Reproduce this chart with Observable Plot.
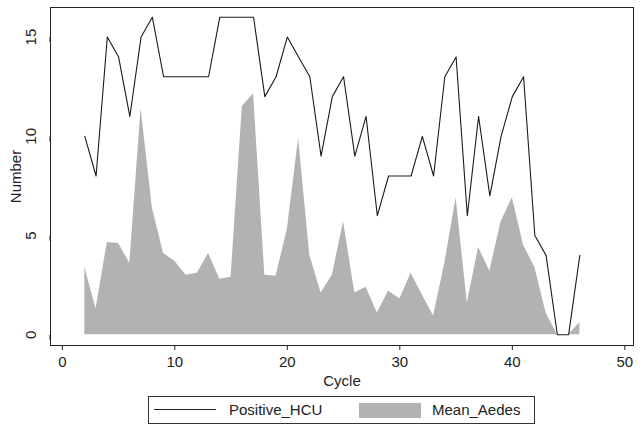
<!DOCTYPE html>
<html>
<head>
<meta charset="utf-8">
<script src="https://cdn.jsdelivr.net/npm/d3@7"></script>
<script src="https://cdn.jsdelivr.net/npm/@observablehq/plot@0.6"></script>
<style>
  html, body { margin: 0; padding: 0; background: #fff; }
  body { width: 642px; height: 433px; position: relative; overflow: hidden; font-family: "Liberation Sans", Arial, sans-serif; color: #222; }
  #legend { position: absolute; left: 148px; top: 396px; width: 387px; height: 28px; border: 1px solid #333; box-sizing: border-box; background: #fff; }
  .lg-line { position: absolute; left: 5px; top: 12px; width: 62px; height: 0; border-top: 1.2px solid #222; }
  .lg-text { position: absolute; top: 4px; font-size: 15px; line-height: 18px; color: #222; }
  .lg-rect { position: absolute; left: 210px; top: 6px; width: 62px; height: 15px; background: #b2b2b2; }
</style>
</head>
<body>
<div id="chart"></div>
<div id="legend">
  <div class="lg-line"></div>
  <div class="lg-text" style="left:80px">Positive_HCU</div>
  <div class="lg-rect"></div>
  <div class="lg-text" style="left:283px">Mean_Aedes</div>
</div>
<script>
const cycles = [2,3,4,5,6,7,8,9,10,11,12,13,14,15,16,17,18,19,20,21,22,23,24,25,26,27,28,29,30,31,32,33,34,35,36,37,38,39,40,41,42,43,44,45,46];
const positiveHCU = [10,8,15,14,11,15,16,13,13,13,13,13,16,16,16,16,12,13,15,14,13,9,12,13,9,11,6,8,8,8,10,8,13,14,6,11,7,10,12,13,5,4,0,0,4];
const meanAedes = [3.4,1.3,4.65,4.6,3.6,11.4,6.4,4.1,3.7,3.0,3.1,4.1,2.8,2.9,11.5,12.15,3.0,2.95,5.3,9.9,4.0,2.1,3.0,5.7,2.1,2.4,1.1,2.2,1.8,3.1,2.0,0.95,3.6,6.9,1.6,4.4,3.2,5.7,6.9,4.5,3.4,1.1,0,0,0.6];
const xTicks = [0,10,20,30,40,50];
const yTicks = [0,5,10,15];

const data = cycles.map((c, i) => ({cycle: c, positive: positiveHCU[i], aedes: meanAedes[i]}));

const chart = Plot.plot({
  width: 642, height: 390,
  marginTop: 7, marginBottom: 45, marginLeft: 50, marginRight: 9,
  style: {fontFamily: "'Liberation Sans', Arial, sans-serif", fontSize: "15px", color: "#222", background: "white"},
  x: {domain: [-1.05, 50.77]},
  y: {domain: [-0.54, 16.49]},
  marks: [
    Plot.areaY(data, {x: "cycle", y1: 0, y2: "aedes", fill: "#b2b2b2"}),
    Plot.lineY(data, {x: "cycle", y: "positive", stroke: "#1a1a1a", strokeWidth: 1.1}),
    Plot.frame({stroke: "#222"}),
    Plot.axisX({ticks: xTicks, tickSize: 5, tickPadding: 6, label: "Cycle", labelArrow: "none", labelAnchor: "center", labelOffset: 40, fontSize: 15}),
    Plot.axisY({ticks: yTicks, tickSize: 5, tickPadding: 14, rotate: -90, textAnchor: "middle", fontSize: 15, label: "Number", labelArrow: "none", labelAnchor: "center", labelOffset: 40})
  ]
});
document.getElementById("chart").appendChild(chart);
</script>
</body>
</html>
